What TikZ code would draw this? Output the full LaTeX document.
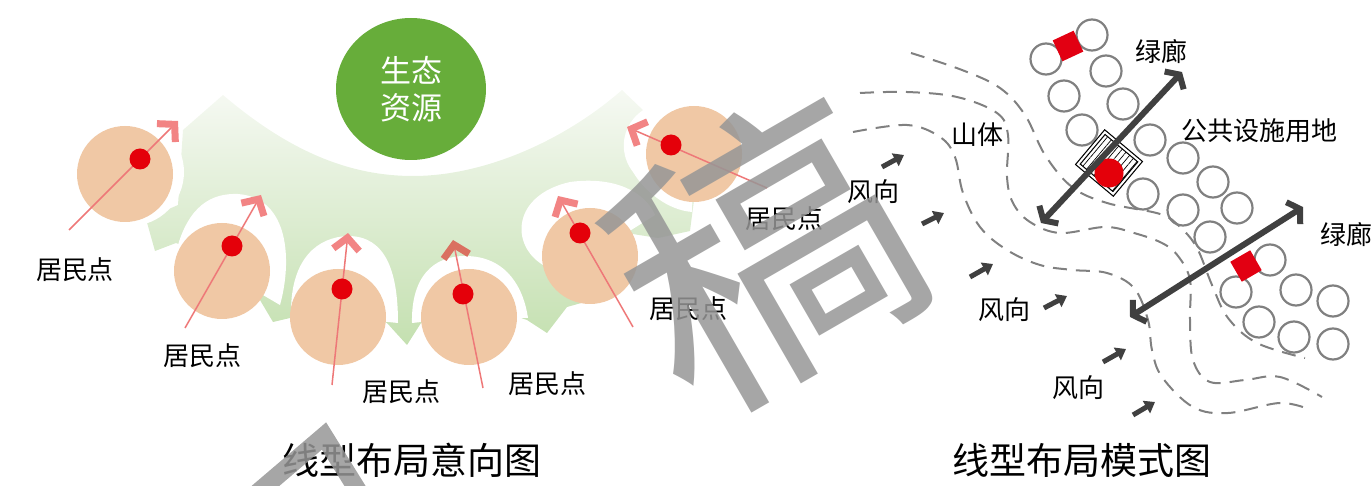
\documentclass[tikz,border=0pt]{standalone}
\usepackage{fontspec}
\setmainfont{Noto Sans CJK SC}
\usetikzlibrary{arrows.meta,patterns.meta,shapes.geometric}

\definecolor{resorange}{RGB}{240,200,165}
\definecolor{resred}{RGB}{228,0,10}
\definecolor{reslinecol}{RGB}{238,120,120}
\definecolor{chevcol}{RGB}{242,132,132}
\definecolor{chevdark}{RGB}{218,112,96}
\definecolor{ecogreen}{RGB}{103,173,58}
\definecolor{fantop}{RGB}{246,249,243}
\definecolor{fanbot}{RGB}{196,224,176}
\definecolor{lotgray}{RGB}{128,128,128}
\definecolor{hillgray}{RGB}{128,128,128}
\definecolor{arrowgray}{RGB}{64,64,64}
\definecolor{sqred}{RGB}{226,0,18}
\definecolor{wmgray}{RGB}{150,150,150}

\tikzset{
 resident/.style={circle, fill=resorange, minimum size=48pt, inner sep=0pt},
 halo/.style={circle, fill=white, minimum size=54pt, inner sep=0pt},
 reddot/.style={circle, fill=resred, minimum size=10.5pt, inner sep=0pt},
 resline/.style={draw=reslinecol, line width=0.75pt, -{Straight Barb[sharp, length=6pt, width=13pt, line width=3.5pt, color=#1]}},
 resline/.default=chevcol,
 lab/.style={font=\fontsize{13pt}{15pt}\selectfont, inner sep=0pt},
 titlelab/.style={font=\fontsize{18.5pt}{20pt}\selectfont, inner sep=0pt},
 eco/.style={ellipse, fill=ecogreen, minimum width=75pt, minimum height=71pt, inner sep=0pt, text=white, align=center, font=\fontsize{15.5pt}{18.5pt}\selectfont},
 lot/.style={circle, draw=lotgray, line width=1.1pt, minimum size=15.5pt, inner sep=0pt},
 redsq/.style={rectangle, fill=sqred, minimum size=11.5pt, inner sep=0pt},
 facility/.style={rectangle, draw=black, double, double distance=1pt, line width=0.6pt, minimum width=23pt, minimum height=21pt, inner sep=0pt, pattern={Lines[angle=50, distance=2.4pt, line width=0.35pt]}},
 hill/.style={draw=hillgray, line width=1pt, dash pattern=on 7pt off 4.5pt},
 wind/.style={draw=arrowgray, line width=2.5pt, -{Triangle[length=5pt, width=7pt]}},
 corridor/.style={draw=arrowgray, line width=3pt, {Straight Barb[sharp, length=4pt, width=13pt]}-{Straight Barb[sharp, length=4pt, width=13pt]}},
 watermark/.style={text=wmgray, opacity=0.85, inner sep=0pt}
}

\begin{document}
\begin{tikzpicture}[x=0.5pt,y=-0.5pt]
\useasboundingbox (0,0) rectangle (1372,486);

\shade[top color=fantop, bottom color=fanbot] (223,95) .. controls (290,152) and (350,176) .. (413,176) .. controls (485,176) and (565,140) .. (622,90) -- (645,112) -- (652,195) -- (694,200) -- (690,231) -- (658,238) -- (620,232) -- (592,300) -- (567,307) -- (547,333) -- (527,320) -- (470,300) -- (421,323) -- (407,345) -- (387,323) -- (340,300) -- (290,318) -- (273,322) -- (257,295) -- (225,262) -- (176,243) -- (155,251) -- (146,219) -- (178,205) -- (183,130) -- cycle;

\node[halo] (halo1) at (130,172) {};
\fill[white] (176,252) .. controls (188,205) and (212,193) .. (238,194) .. controls (290,198) and (292,262) .. (280,305) -- (222,271) -- cycle;
\fill[white] (291,312) .. controls (291,258) and (318,237) .. (348,236) .. controls (385,236) and (398,270) .. (398,323) -- (338,317) -- cycle;
\fill[white] (412,323) .. controls (411,277) and (433,256) .. (465,256) .. controls (508,256) and (524,290) .. (528,318) -- (468,317) -- cycle;
\fill[white] (543,265) .. controls (510,245) and (512,195) .. (570,182) .. controls (615,176) and (645,192) .. (655,215) -- (590,256) -- cycle;
\fill[white] (668,102) .. controls (628,105) and (612,145) .. (633,172) .. controls (645,192) and (668,210) .. (692,212) -- (694,154) -- cycle;

\node[eco] (eco) at (411,89) {生态\\资源};

\node[resident] (res1) at (125,174) {};
\node[resident] (res2) at (222,271) {};
\node[resident] (res3) at (338,317) {};
\node[resident] (res4) at (469,317) {};
\node[resident] (res5) at (590,256) {};
\node[resident] (res6) at (694,154) {};

\coordinate (s1) at (69,230);
\coordinate (t1) at (178,121);
\coordinate (s2) at (185,328);
\coordinate (t2) at (261,195);
\coordinate (s3) at (332,385);
\coordinate (t3) at (348,233);
\coordinate (s4) at (483,388);
\coordinate (t4) at (453,240);
\coordinate (s5) at (633,327);
\coordinate (t5) at (558,196);
\coordinate (s6) at (767,188);
\coordinate (t6) at (627,127);

\draw[resline] (s1) -- (t1);
\draw[resline] (s2) -- (t2);
\draw[resline] (s3) -- (t3);
\draw[resline=chevdark] (s4) -- (t4);
\draw[resline] (s5) -- (t5);
\draw[resline] (s6) -- (t6);

\node[reddot] (dot1) at (140,159) {};
\node[reddot] (dot2) at (232,246) {};
\node[reddot] (dot3) at (342,289) {};
\node[reddot] (dot4) at (463,294) {};
\node[reddot] (dot5) at (580,233) {};
\node[reddot] (dot6) at (671,145) {};

\node[lab] (lab1) at (75,270) {居民点};
\node[lab] (lab2) at (202,356) {居民点};
\node[lab] (lab3) at (401,392) {居民点};
\node[lab] (lab4) at (547,384) {居民点};
\node[lab] (lab5) at (688,309) {居民点};
\node[lab] (lab6) at (784,219) {居民点};

\node[titlelab] (title1) at (412,460) {线型布局意向图};

\draw[hill] plot[smooth, tension=0.6] coordinates {(911,53) (962,70) (1000,88) (1025,115) (1045,155) (1072,187) (1107,203) (1160,214) (1180,227) (1197,248) (1212,285) (1228,318) (1257,343) (1305,358)};
\draw[hill] plot[smooth, tension=0.6] coordinates {(860,93) (907,92) (957,97) (997,113) (1008,135) (1007,177) (1013,203) (1030,222) (1060,233) (1105,227) (1134,233) (1162,243) (1178,256) (1190,280) (1190,320) (1193,360) (1210,382) (1245,380) (1280,377) (1322,397)};
\draw[hill] plot[smooth, tension=0.6] coordinates {(853,132) (907,125) (940,137) (955,157) (963,193) (980,227) (1007,250) (1040,265) (1073,270) (1107,273) (1134,288) (1148,320) (1152,350) (1162,377) (1193,407) (1228,413) (1280,403) (1311,410)};

\node[lot] (lot1) at (1046,59) {};
\node[lot] (lot2) at (1092,35) {};
\node[lot] (lot3) at (1106,71) {};
\node[lot] (lot4) at (1064,96) {};
\node[lot] (lot5) at (1123,104) {};
\node[lot] (lot6) at (1082,130) {};
\node[lot] (lot7) at (1150,140) {};
\node[lot] (lot8) at (1183,158) {};
\node[lot] (lot9) at (1143,194) {};
\node[lot] (lot10) at (1213,182) {};
\node[lot] (lot11) at (1183,210) {};
\node[lot] (lot12) at (1237,208) {};
\node[lot] (lot13) at (1210,237) {};
\node[lot] (lot14) at (1270,260) {};
\node[lot] (lot15) at (1236,292) {};
\node[lot] (lot16) at (1296,290) {};
\node[lot] (lot17) at (1333,301) {};
\node[lot] (lot18) at (1259,322) {};
\node[lot] (lot19) at (1294,337) {};
\node[lot] (lot20) at (1333,344) {};

\node[redsq, rotate=25] (sq1) at (1068,46) {};
\node[redsq, rotate=30] (sq2) at (1246,266) {};

\node[facility, rotate=-40] (fac) at (1109,163) {};
\node[reddot, minimum size=14.5pt] (facdot) at (1109,173) {};

\coordinate (g1a) at (1041,223);
\coordinate (g1b) at (1182,72);
\coordinate (g2a) at (1130,317);
\coordinate (g2b) at (1303,207);
\draw[corridor] (g1a) -- (g1b);
\draw[corridor] (g2a) -- (g2b);

\coordinate (w1a) at (882,167);
\coordinate (w1b) at (904,155);
\coordinate (w2a) at (922,224);
\coordinate (w2b) at (944,213);
\coordinate (w3a) at (970,277);
\coordinate (w3b) at (993,264);
\coordinate (w4a) at (1044,308);
\coordinate (w4b) at (1067,296);
\coordinate (w5a) at (1103,362);
\coordinate (w5b) at (1126,349);
\coordinate (w6a) at (1133,415);
\coordinate (w6b) at (1155,402);
\draw[wind] (w1a) -- (w1b);
\draw[wind] (w2a) -- (w2b);
\draw[wind] (w3a) -- (w3b);
\draw[wind] (w4a) -- (w4b);
\draw[wind] (w5a) -- (w5b);
\draw[wind] (w6a) -- (w6b);

\node[lab] (wind1) at (873,192) {风向};
\node[lab] (wind2) at (1004,310) {风向};
\node[lab] (wind3) at (1078,388) {风向};
\node[lab] (mount) at (977,135) {山体};
\node[lab] (green1) at (1161,52) {绿廊};
\node[lab] (green2) at (1346,235) {绿廊};
\node[lab] (pub) at (1259,131) {公共设施用地};

\node[titlelab] (title2) at (1082,460) {线型布局模式图};

\node[watermark, rotate=30, font=\fontsize{145pt}{145pt}\selectfont] (wm) at (762,252) {稿};
\draw[wmgray, opacity=0.85, line width=9pt] (256,494) -- (324,436) -- (360,494);
\end{tikzpicture}
\end{document}
